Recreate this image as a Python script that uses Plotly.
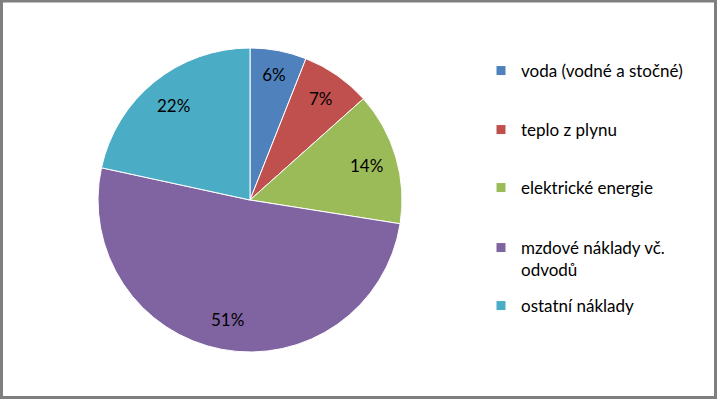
import plotly.graph_objects as go

categories = ["voda (vodné a stočné)", "teplo z plynu", "elektrické energie",
              "mzdové náklady vč. odvodů", "ostatní náklady"]
legend_labels = ["voda (vodné a stočné)", "teplo z plynu", "elektrické energie",
                 "mzdové náklady vč.<br>odvodů", "ostatní náklady"]
values = [6.0, 7.4, 14.1, 50.9, 21.6]
colors = ["#4F81BD", "#C0504D", "#9BBB59", "#8064A2", "#4BACC6"]

W, H = 717, 399
FONT = "Lato, Carlito, Calibri, sans-serif"
dom = dict(x=[98 / W, 402 / W], y=[1 - 352 / H, 1 - 48 / H])

fig = go.Figure()
# base pie (slices)
fig.add_trace(go.Pie(
    labels=categories, values=values, sort=False, direction="clockwise",
    rotation=0, marker=dict(colors=colors, line=dict(color="white", width=1)),
    textinfo="none", showlegend=False, hoverinfo="skip", domain=dom,
))
# transparent ring carrying the percentage labels at ~0.8 radius
fig.add_trace(go.Pie(
    labels=categories, values=values, sort=False, direction="clockwise",
    rotation=0, hole=0.6,
    marker=dict(colors=["rgba(0,0,0,0)"] * len(values), line=dict(width=0)),
    textinfo="percent", texttemplate="%{percent:.0%}", textposition="inside",
    insidetextorientation="horizontal",
    textfont=dict(family=FONT, size=17, color="#000000"),
    showlegend=False, hoverinfo="label+percent", domain=dom,
))

legend_y = [71, 130, 188, 259, 306]
legend_layout = {}
for i, (lab, col) in enumerate(zip(legend_labels, colors)):
    key = "legend" if i == 0 else f"legend{i + 1}"
    fig.add_trace(go.Scatter(
        x=[None], y=[None], mode="markers", name=lab, legend=key,
        marker=dict(symbol="square", size=9, color=col), showlegend=True,
    ))
    legend_layout[key] = dict(
        x=481 / W, y=1 - legend_y[i] / H, xanchor="left", yanchor="middle",
        font=dict(family=FONT, size=17, color="#000000"), valign="top",
        itemwidth=30, bgcolor="rgba(0,0,0,0)",
    )

fig.update_layout(
    width=W, height=H, margin=dict(l=0, r=0, t=0, b=0),
    paper_bgcolor="white", plot_bgcolor="white",
    xaxis=dict(visible=False), yaxis=dict(visible=False),
    shapes=[dict(type="rect", xref="paper", yref="paper",
                 x0=1.5 / W, x1=715.5 / W, y0=1 - 397.5 / H, y1=1 - 1 / H,
                 line=dict(color="#7F7F7F", width=3), fillcolor="rgba(0,0,0,0)")],
    **legend_layout,
)

fig.write_html("out.html", config={"displayModeBar": False},
               post_script="document.body.style.margin='0';document.body.style.overflow='hidden';")
